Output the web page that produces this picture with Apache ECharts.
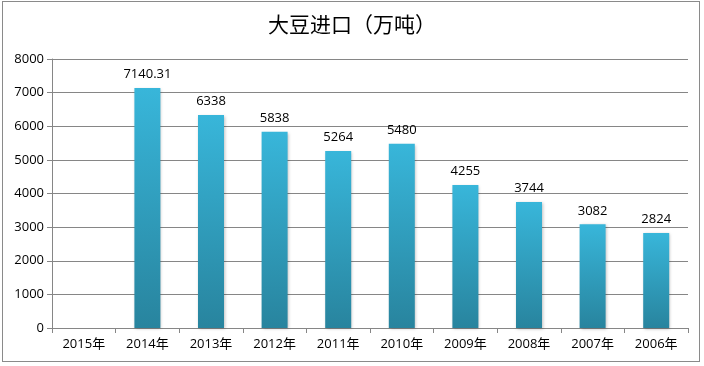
<!DOCTYPE html>
<html><head><meta charset="utf-8">
<script src="https://cdn.jsdelivr.net/npm/echarts@6/dist/echarts.min.js"></script>
<style>html,body{margin:0;padding:0;background:#fff}#b{position:absolute;left:2px;top:1px;width:698px;height:361px;border:1px solid #8a8a8a;box-sizing:border-box}#c{position:absolute;left:0;top:0;width:704px;height:366px}</style>
</head><body><div id="b"></div><div id="c"></div>
<script>
const title = '大豆进口（万吨）';
const categories = ['2015年','2014年','2013年','2012年','2011年','2010年','2009年','2008年','2007年','2006年'];
const values = [null, 7140.31, 6338, 5838, 5264, 5480, 4255, 3744, 3082, 2824];
const yTicks = {min: 0, max: 8000, interval: 1000};

const chart = echarts.init(document.getElementById('c'));
chart.setOption({
  animation: false,
  title: {text: title, left: 'center', top: 9,
    textStyle: {fontFamily: '"Noto Sans CJK SC", sans-serif', fontSize: 21, fontWeight: 'normal', color: '#000'}},
  grid: {left: 52, right: 16, top: 59, bottom: 38},
  xAxis: {type: 'category', data: categories,
    axisLine: {lineStyle: {color: '#868686'}},
    axisTick: {show: true, length: 5, lineStyle: {color: '#868686'}},
    axisLabel: {color: '#000', fontSize: 13, fontFamily: '"Open Sans", "Noto Sans CJK SC", sans-serif', margin: 10}},
  yAxis: {type: 'value', min: yTicks.min, max: yTicks.max, interval: yTicks.interval,
    axisLine: {show: true, lineStyle: {color: '#868686'}},
    axisTick: {show: true, length: 5, lineStyle: {color: '#868686'}},
    splitLine: {lineStyle: {color: '#868686'}},
    axisLabel: {color: '#000', fontSize: 13, fontFamily: '"Open Sans", sans-serif', margin: 8,
      formatter: v => String(v)}},
  series: [{type: 'bar', data: values, barWidth: 26,
    itemStyle: {color: new echarts.graphic.LinearGradient(0, 0, 0, 1, [
      {offset: 0, color: '#38b6da'}, {offset: 1, color: '#28849e'}]),
      shadowColor: 'rgba(0,0,0,0.25)', shadowBlur: 3, shadowOffsetX: 1, shadowOffsetY: 1},
    label: {show: true, position: 'top', distance: 7, color: '#000', fontSize: 13,
      fontFamily: '"Open Sans", sans-serif'}}]
});
</script></body></html>
